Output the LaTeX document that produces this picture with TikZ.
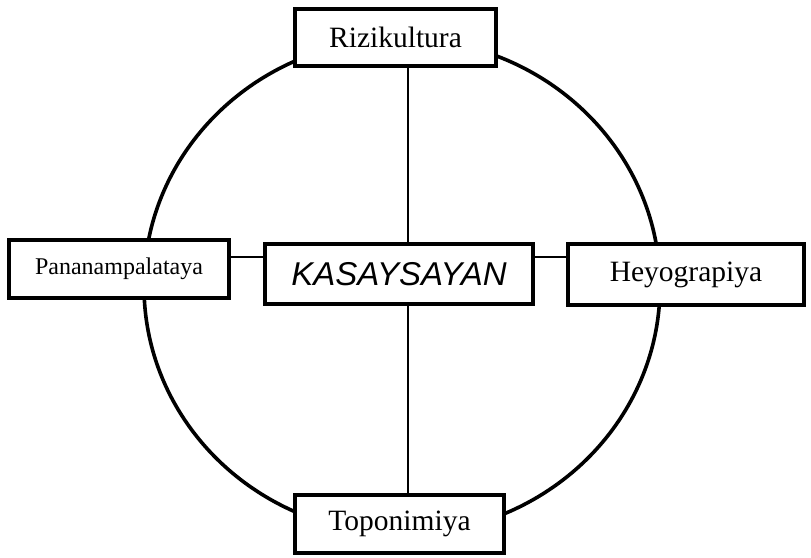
\documentclass[tikz,border=0pt]{standalone}
\usepackage{fontspec}
\setmainfont{Liberation Serif}
\newfontfamily\hsfont{Liberation Sans}
\usepackage{tikz}
\definecolor{HSInk}{HTML}{000000}
\tikzset{
  hsring/.style={HSInk,line width=3.6pt},
  hslink/.style={HSInk,line width=2.2pt},
  hsbox/.style={draw=HSInk,fill=white,line width=4pt,inner sep=0pt,
    font=\fontsize{29.5}{32}\selectfont},
  hscore/.style={hsbox,font=\hsfont\itshape\fontsize{33}{36}\selectfont}
}

\begin{document}
\begin{tikzpicture}[x=1pt,y=-1pt]
\path[use as bounding box] (0,0) rectangle (811,557);
\fill[white] (0,0) rectangle (811,557);
% ring behind the boxes
\draw[hsring] (402,286.4) ellipse [x radius=258,y radius=247.6];
\coordinate (axis) at (408,257);
\node[hscore,minimum width=268pt,minimum height=60pt] (ctr) at (399,274) {KASAYSAYAN};
\node[hsbox,minimum width=201pt,minimum height=57pt] (top) at (395.5,37.5) {Rizikultura};
\node[hsbox,minimum width=209pt,minimum height=58pt] (bot) at (399.5,524) {Toponimiya};
\node[hsbox,minimum width=220pt,minimum height=58pt,font=\fontsize{24}{27}\selectfont] (lft) at (119,269) {Pananampalataya};
\node[hsbox,minimum width=236pt,minimum height=61pt] (rgt) at (686,274.5) {Heyograpiya};
\draw[hslink] (axis |- top.south) -- (axis |- ctr.north);
\draw[hslink] (axis |- ctr.south) -- (axis |- bot.north);
\draw[hslink] (lft.east |- axis) -- (ctr.west |- axis);
\draw[hslink] (ctr.east |- axis) -- (rgt.west |- axis);
\end{tikzpicture}
\end{document}
